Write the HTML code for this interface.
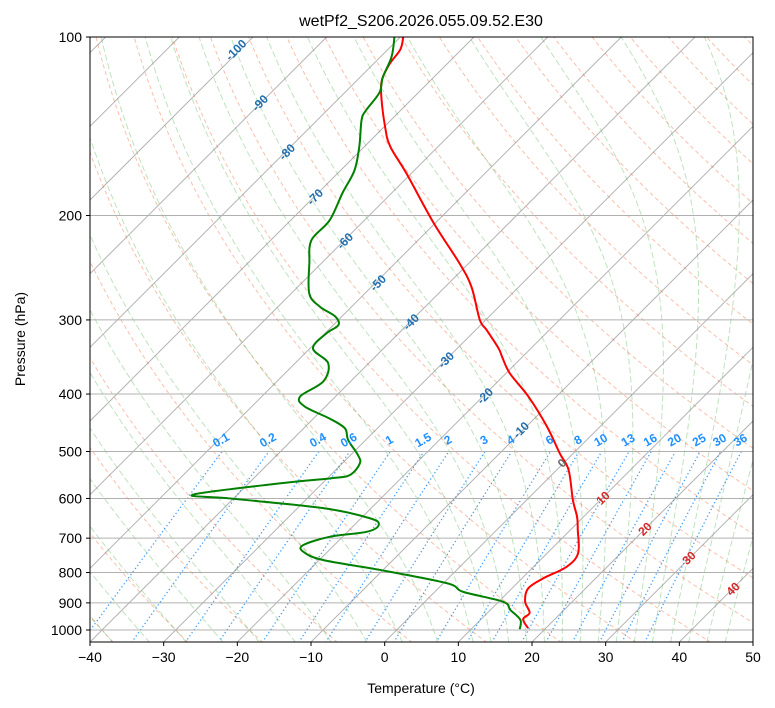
<!DOCTYPE html>
<html><head><meta charset="utf-8">
<style>
html,body{margin:0;padding:0;background:#fff;}
svg{display:block;font-family:"Liberation Sans","DejaVu Sans",sans-serif;}
</style></head>
<body>
<svg id="chart" width="775" height="708" viewBox="0 0 775 708" xmlns="http://www.w3.org/2000/svg">
<defs><clipPath id="pc"><rect x="90" y="37" width="663" height="605"/></clipPath></defs>
<rect width="775" height="708" fill="#fff"/>
<text x="421" y="26" font-size="16" text-anchor="middle">wetPf2_S206.2026.055.09.52.E30</text>
<g id="bg" clip-path="url(#pc)"></g>
<g id="series" clip-path="url(#pc)"></g>
<g id="labels"></g>
<rect x="90" y="37" width="663" height="605" fill="none" stroke="#000" stroke-width="1"/>
<g id="axes"></g>
<text x="421" y="693" font-size="14" text-anchor="middle">Temperature (°C)</text>
<text x="25" y="339" font-size="14" text-anchor="middle" transform="rotate(-90 25 339)">Pressure (hPa)</text>
</svg>
<script>
// ---- data ----
const tempP = [100,105,111,118,126,142,153,170,206,241,264,300,312,335,346,369,404,454,504,537,604,644,678,742,782,818,851,896,935,959,993];
const tempT = [-79.6,-78.3,-77.8,-76.7,-74.5,-69.8,-66.5,-60.6,-50.2,-41.2,-36.4,-30.8,-28.5,-24.4,-22.8,-19.5,-13.8,-7.2,-1.8,1.6,6.3,9.1,11.0,14.2,14.5,12.9,12.2,13.6,15.7,15.7,17.6];
const dewP = [100,108,117,124,133,138,153,168,183,204,220,241,271,285,296,306,316,335,355,381,404,420,440,457,478,507,524,548,555,566,591,600,623,648,665,683,696,719,738,762,792,834,862,896,925,961,997];
const dewT = [-80.8,-78.5,-76.9,-75.3,-74.7,-74.0,-70.7,-68.1,-66.7,-64.7,-64.5,-61.6,-57.5,-54.3,-50.9,-49.3,-49.8,-49.6,-45.5,-43.7,-44.8,-42.8,-37.8,-34.4,-32.4,-29.0,-27.6,-27.4,-29.6,-35.8,-46.0,-40.5,-26.5,-18.8,-16.7,-17.4,-21.7,-24.2,-23.3,-19.5,-10.4,0.5,3.8,10.6,12.7,15.4,16.6];
const xTicks = [-40,-30,-20,-10,0,10,20,30,40,50];
const pTicks = [100,200,300,400,500,600,700,800,900,1000];
const mixRatios = [0.1,0.2,0.4,0.6,1,1.5,2,3,4,6,8,10,13,16,20,25,30,36];
const isoLabelsBlue = [-100,-90,-80,-70,-60,-50,-40,-30,-20,-10];
const isoLabelsRed = [10,20,30,40];

// ---- axis functions ----
const X0=90, X1=753, Y0=37, YB=642, PXC=(X1-X0)/90;
function yP(p){return Y0+(Math.log10(p)-2)*593;}
function xT(T,p){const y=yP(p);return X0+(T+40)*PXC+(YB-y);}
const NS="http://www.w3.org/2000/svg";
function mk(tag,attrs,parent){const e=document.createElementNS(NS,tag);for(const k in attrs)e.setAttribute(k,attrs[k]);parent.appendChild(e);return e;}
const bg=document.getElementById('bg'), ser=document.getElementById('series'), lab=document.getElementById('labels'), ax=document.getElementById('axes');
function pathFrom(ps,ts){return ps.map((p,i)=>(i?'L':'M')+xT(ts[i],p).toFixed(2)+','+yP(p).toFixed(2)).join('');}
function smoothFrom(ps,ts){
  const pts=ps.map((p,i)=>[xT(ts[i],p),yP(p)]);
  let d='M'+pts[0][0].toFixed(2)+','+pts[0][1].toFixed(2);
  for(let i=0;i<pts.length-1;i++){
    const p0=pts[Math.max(0,i-1)],p1=pts[i],p2=pts[i+1],p3=pts[Math.min(pts.length-1,i+2)];
    const c1=[p1[0]+(p2[0]-p0[0])/6,p1[1]+(p2[1]-p0[1])/6];
    const c2=[p2[0]-(p3[0]-p1[0])/6,p2[1]-(p3[1]-p1[1])/6];
    d+='C'+c1[0].toFixed(2)+','+c1[1].toFixed(2)+' '+c2[0].toFixed(2)+','+c2[1].toFixed(2)+' '+p2[0].toFixed(2)+','+p2[1].toFixed(2);
  }
  return d;
}
const pres=[];for(let lp=Math.log10(1050);lp>=1.999;lp-=0.01)pres.push(Math.pow(10,lp));pres.push(100);

// dry adiabats
for(let th=-40;th<=200;th+=10){
  const ts=pres.map(p=>(th+273.15)*Math.pow(p/1000,0.2857)-273.15);
  const e=mk('path',{d:pathFrom(pres,ts),fill:'none',stroke:'#f4805a','stroke-opacity':0.5,'stroke-width':1,'stroke-dasharray':'4,3'},bg);
  
  
}
// moist adiabats
function es(tc){return 6.112*Math.exp(17.67*tc/(tc+243.5));}
function dTdp(p,T){const tc=T-273.15;const e=es(tc);const rs=0.622*e/(p-e);
  return (287.04*T+2.501e6*rs)/(1005.7+2.501e6*2.501e6*rs*0.622/(287.04*T*T))/p;}
const moist0=[];for(let t=-50;t<=10.01;t+=5)moist0.push(t);for(let t=12.5;t<=45.01;t+=2.5)moist0.push(t);
moist0.forEach(t0=>{
  const up=[],down=[];let T=t0+273.15,p=1000;
  up.push([p,T]);while(p>100){const dp=-5;T+=dTdp(p,T)*dp;p+=dp;up.push([p,T]);}
  T=t0+273.15;p=1000;while(p<1050){const dp=5;T+=dTdp(p,T)*dp;p+=dp;down.unshift([p,T]);}
  const all=down.concat(up);
  const e=mk('path',{d:pathFrom(all.map(a=>a[0]),all.map(a=>a[1]-273.15)),fill:'none',stroke:'#2ca02c','stroke-opacity':0.3,'stroke-width':1,'stroke-dasharray':'6,3'},bg);
  
  
});
// mixing ratio lines
const mrP=[];for(let lp=Math.log10(1050);lp>=Math.log10(500);lp-=0.01)mrP.push(Math.pow(10,lp));mrP.push(500);
function tdW(w,p){const e=p*w/(622+w);const l=Math.log(e/6.112);return 243.5*l/(17.67-l);}
mixRatios.forEach(w=>{
  const e=mk('path',{d:pathFrom(mrP,mrP.map(p=>tdW(w,p))),fill:'none',stroke:'#1e90ff','stroke-opacity':0.85,'stroke-width':1.3,'stroke-dasharray':'1.3,2.5'},bg);
  
  
  const lx=xT(tdW(w,500),500)+1, ly=yP(500)-8;
  const t=mk('text',{x:lx,y:ly,'font-size':12,'font-weight':'bold',fill:'#1e90ff','text-anchor':'middle',transform:`rotate(-30 ${lx} ${ly})`},lab);
  t.textContent=String(w);
  
  
});
// isotherms
for(let T=-130;T<=50;T+=10){
  const e=mk('line',{x1:xT(T,1050),y1:yP(1050),x2:xT(T,100),y2:yP(100),stroke:'#808080','stroke-opacity':0.6,'stroke-width':1},bg);
  
  
}
// pressure grid
pTicks.forEach(p=>{
  const e=mk('line',{x1:X0,x2:X1,y1:yP(p),y2:yP(p),stroke:'#b0b0b0','stroke-width':1},bg);
  
  
});
// isotherm labels
const bluePos={'-100':[236,50],'-90':[260,103],'-80':[287,152],'-70':[315,197],'-60':[345,241],'-50':[378,283],'-40':[411,322],'-30':[446,360],'-20':[485,396],'-10':[521,430]};
isoLabelsBlue.forEach(v=>{
  const [px,py]=bluePos[v];
  const t=mk('text',{x:px,y:py+4,'font-size':12,'font-weight':'bold',fill:'#1f6fb0','text-anchor':'middle',transform:`rotate(-45 ${px} ${py})`},lab);
  t.textContent=String(v);
  
  
});
const redPos={10:[603,498],20:[645,529],30:[689,558],40:[733,589]};
isoLabelsRed.forEach(v=>{
  const [px,py]=redPos[v];
  const t=mk('text',{x:px,y:py+4,'font-size':12,'font-weight':'bold',fill:'#d62728','text-anchor':'middle',transform:`rotate(-45 ${px} ${py})`},lab);
  t.textContent=String(v);
  
  
});
const zc=mk('text',{x:562,y:467,'font-size':12,'font-weight':'bold',fill:'#666','text-anchor':'middle',transform:'rotate(-45 562 463)'},lab);
zc.textContent='0';


// profiles
const tp=mk('path',{d:smoothFrom(tempP,tempT),fill:'none',stroke:'#ff0000','stroke-width':2,'stroke-linejoin':'round'},ser);


const dp=mk('path',{d:smoothFrom(dewP,dewT),fill:'none',stroke:'#008000','stroke-width':2,'stroke-linejoin':'round'},ser);


// axes ticks
xTicks.forEach(T=>{
  const x=X0+(T+40)*PXC;
  const l=mk('line',{x1:x,x2:x,y1:YB,y2:YB+4,stroke:'#000'},ax);
  
  
  const t=mk('text',{x:x,y:YB+20,'font-size':14,'text-anchor':'middle'},ax);
  t.textContent=(T<0?'\u2212':'')+Math.abs(T);
  
  
});
pTicks.forEach(p=>{
  const y=yP(p);
  const l=mk('line',{x1:X0-4,x2:X0,y1:y,y2:y,stroke:'#000'},ax);
  
  
  const t=mk('text',{x:X0-8,y:y+5,'font-size':14,'text-anchor':'end'},ax);
  t.textContent=String(p);
  
  
});
</script>
</body></html>
